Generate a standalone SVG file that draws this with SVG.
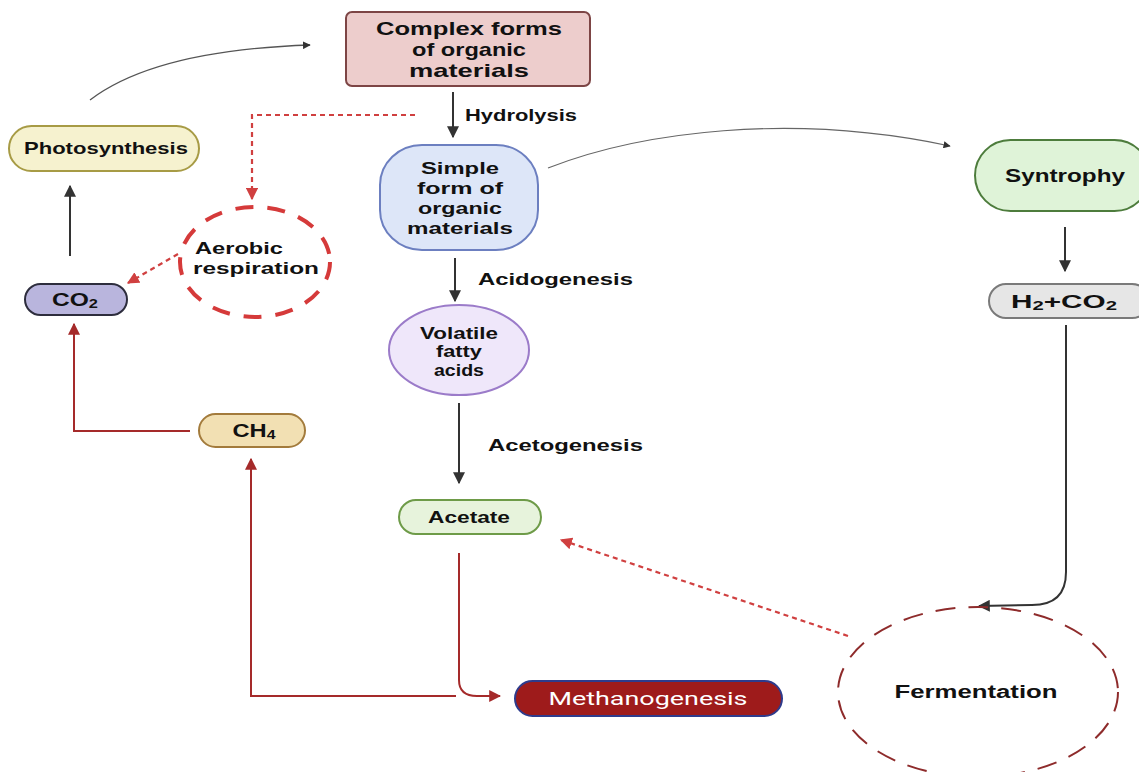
<svg xmlns="http://www.w3.org/2000/svg" width="1139" height="772" viewBox="0 0 1139 772">
<style>
text{font-family:"Liberation Sans",Arial,sans-serif;font-weight:bold;fill:#111;text-anchor:middle}
.lbl{text-anchor:start;font-size:16px}
.blk{fill:none;stroke:#333;stroke-width:2}
.red{fill:none;stroke:#a52a2a;stroke-width:2}
.dot{fill:none;stroke:#d04040;stroke-width:2.2;stroke-dasharray:5 4}
</style>
<defs>
<marker id="ab" viewBox="0 0 10 10" refX="9" refY="5" markerWidth="6" markerHeight="6" orient="auto" markerUnits="strokeWidth"><path d="M0,0 L10,5 L0,10 z" fill="#333"/></marker>
<marker id="ar" viewBox="0 0 10 10" refX="9" refY="5" markerWidth="6" markerHeight="6" orient="auto" markerUnits="strokeWidth"><path d="M0,0 L10,5 L0,10 z" fill="#a52a2a"/></marker>
<marker id="ad" viewBox="0 0 10 10" refX="9" refY="5" markerWidth="5.5" markerHeight="5.5" orient="auto" markerUnits="strokeWidth"><path d="M0,0 L10,5 L0,10 z" fill="#d04040"/></marker>
</defs>
<rect width="1139" height="772" fill="#fff"/>

<g id="connectors">
<path d="M90,100 C140,62 220,48 310,45" fill="none" stroke="#555" stroke-width="1.3" marker-end="url(#ab)"/>
<path d="M548,168 C640,132 790,112 950,146" fill="none" stroke="#666" stroke-width="1.2" marker-end="url(#ab)"/>
<path d="M453,92 L453,137" class="blk" marker-end="url(#ab)"/>
<path d="M455,258 L455,301" class="blk" marker-end="url(#ab)"/>
<path d="M459,403 L459,483" class="blk" marker-end="url(#ab)"/>
<path d="M70,256 L70,186" class="blk" marker-end="url(#ab)"/>
<path d="M1065,227 L1065,271" class="blk" marker-end="url(#ab)"/>
<path d="M1066,325 L1066,572 Q1066,605 1032,605 L979,606" class="blk" marker-end="url(#ab)"/>
<path d="M459,553 L459,680 Q459,696 477,696 L500,696" class="red" marker-end="url(#ar)"/>
<path d="M456,696 L251,696 L251,459" class="red" marker-end="url(#ar)"/>
<path d="M190,431 L74,431 L74,324" class="red" marker-end="url(#ar)"/>
<path d="M415,115 L252,115 L252,199" class="dot" marker-end="url(#ad)"/>
<path d="M178,254 L128,283" class="dot" marker-end="url(#ad)"/>
<path d="M848,636 L561,540" class="dot" marker-end="url(#ad)"/>
</g>

<g id="labels">
<text class="lbl" x="465" y="121" textLength="112" lengthAdjust="spacingAndGlyphs">Hydrolysis</text>
<text class="lbl" x="478" y="285" textLength="155" lengthAdjust="spacingAndGlyphs">Acidogenesis</text>
<text class="lbl" x="488" y="451" textLength="155" lengthAdjust="spacingAndGlyphs">Acetogenesis</text>
</g>

<g id="complex">
<rect x="346" y="12" width="244" height="74" rx="6" fill="#edcdcc" stroke="#7d4545" stroke-width="2"/>
<text x="469" y="35" font-size="19" textLength="186" lengthAdjust="spacingAndGlyphs">Complex forms</text>
<text x="469" y="56" font-size="19" textLength="114" lengthAdjust="spacingAndGlyphs">of organic</text>
<text x="469" y="77" font-size="19" textLength="120" lengthAdjust="spacingAndGlyphs">materials</text>
</g>

<g id="simple">
<rect x="380" y="145" width="158" height="105" rx="42" ry="40" fill="#dde6f8" stroke="#6c7fc0" stroke-width="2"/>
<text x="460" y="174" font-size="17" textLength="78" lengthAdjust="spacingAndGlyphs">Simple</text>
<text x="460" y="194" font-size="17" textLength="86" lengthAdjust="spacingAndGlyphs">form of</text>
<text x="460" y="214" font-size="17" textLength="84" lengthAdjust="spacingAndGlyphs">organic</text>
<text x="460" y="234" font-size="17" textLength="106" lengthAdjust="spacingAndGlyphs">materials</text>
</g>

<g id="vfa">
<ellipse cx="459" cy="350" rx="70" ry="45" fill="#efe7fa" stroke="#9b7bc9" stroke-width="2"/>
<text x="459" y="339" font-size="17" textLength="78" lengthAdjust="spacingAndGlyphs">Volatile</text>
<text x="459" y="357" font-size="17" textLength="46" lengthAdjust="spacingAndGlyphs">fatty</text>
<text x="459" y="376" font-size="17" textLength="50" lengthAdjust="spacingAndGlyphs">acids</text>
</g>

<g id="acetate">
<rect x="399" y="500" width="142" height="34" rx="17" fill="#e7f3dc" stroke="#6e9b48" stroke-width="2"/>
<text x="469" y="523" font-size="17" textLength="82" lengthAdjust="spacingAndGlyphs">Acetate</text>
</g>

<g id="methanogenesis">
<rect x="515" y="681" width="267" height="35" rx="17.5" fill="#9e1b1b" stroke="#2e3b8c" stroke-width="2"/>
<text x="648" y="705" font-size="19" style="font-family:Roboto,'Liberation Sans',sans-serif;font-weight:normal;fill:#fff" textLength="199" lengthAdjust="spacingAndGlyphs">Methanogenesis</text>
</g>

<g id="ch4">
<rect x="199" y="414" width="106" height="33" rx="16.5" fill="#f2e0b3" stroke="#a37b3c" stroke-width="2"/>
<text x="254" y="437" font-size="18" textLength="43" lengthAdjust="spacingAndGlyphs">CH<tspan font-size="12" dy="2">4</tspan></text>
</g>

<g id="co2">
<rect x="25" y="284" width="102" height="31" rx="15.5" fill="#b9b5dd" stroke="#2d2d3d" stroke-width="2"/>
<text x="75" y="306" font-size="18" textLength="46" lengthAdjust="spacingAndGlyphs">CO<tspan font-size="12" dy="2">2</tspan></text>
</g>

<g id="photosynthesis">
<rect x="9" y="126" width="190" height="45" rx="22.5" fill="#f6f2cf" stroke="#a79b45" stroke-width="2"/>
<text x="106" y="154" font-size="17" textLength="164" lengthAdjust="spacingAndGlyphs">Photosynthesis</text>
</g>

<g id="aerobic">
<ellipse cx="255" cy="262" rx="75" ry="55" fill="none" stroke="#d53a3a" stroke-width="4" stroke-dasharray="18 14"/>
<text x="239" y="254" font-size="17" textLength="88" lengthAdjust="spacingAndGlyphs">Aerobic</text>
<text x="256" y="274" font-size="17" textLength="126" lengthAdjust="spacingAndGlyphs">respiration</text>
</g>

<g id="syntrophy">
<rect x="975" y="140" width="175" height="71" rx="35.5" fill="#dff3d8" stroke="#4d7c3c" stroke-width="2"/>
<text x="1065" y="182" font-size="18" textLength="120" lengthAdjust="spacingAndGlyphs">Syntrophy</text>
</g>

<g id="h2co2">
<rect x="989" y="284" width="160" height="34" rx="17" fill="#e6e6e6" stroke="#7a7a7a" stroke-width="2"/>
<text x="1064" y="308" font-size="19" textLength="106" lengthAdjust="spacingAndGlyphs">H<tspan font-size="13" dy="2">2</tspan><tspan dy="-2">+CO</tspan><tspan font-size="13" dy="2">2</tspan></text>
</g>

<g id="fermentation">
<ellipse cx="978" cy="692" rx="140" ry="85" fill="none" stroke="#8e2b2b" stroke-width="2" stroke-dasharray="20 13"/>
<text x="976" y="698" font-size="18" textLength="163" lengthAdjust="spacingAndGlyphs">Fermentation</text>
</g>
</svg>
